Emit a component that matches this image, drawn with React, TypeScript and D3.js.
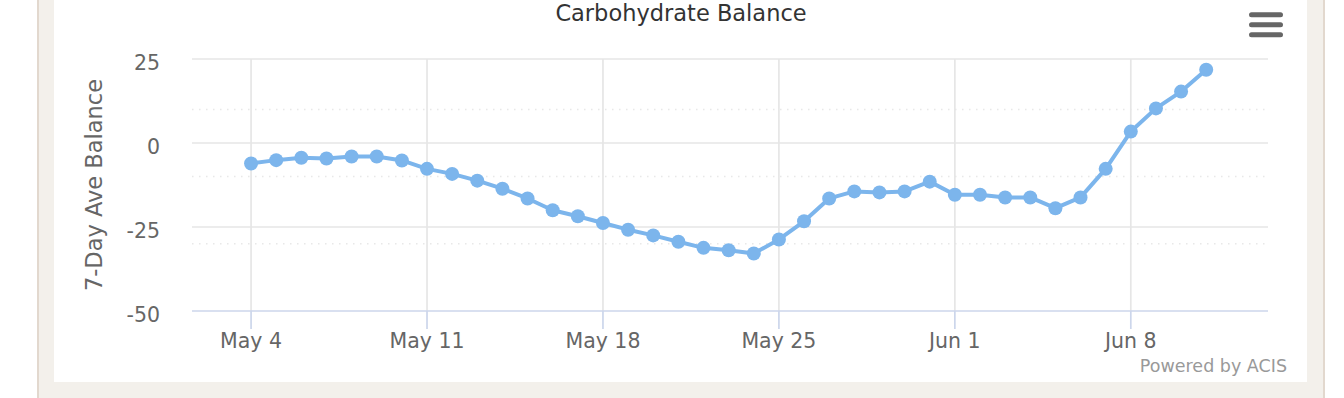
import React from "react";
import * as d3 from "d3";

// daily 7-day average carbohydrate balance
const days = [
  "2016-05-04", "2016-05-05", "2016-05-06", "2016-05-07", "2016-05-08", "2016-05-09", "2016-05-10",
  "2016-05-11", "2016-05-12", "2016-05-13", "2016-05-14", "2016-05-15", "2016-05-16", "2016-05-17",
  "2016-05-18", "2016-05-19", "2016-05-20", "2016-05-21", "2016-05-22", "2016-05-23", "2016-05-24",
  "2016-05-25", "2016-05-26", "2016-05-27", "2016-05-28", "2016-05-29", "2016-05-30", "2016-05-31",
  "2016-06-01", "2016-06-02", "2016-06-03", "2016-06-04", "2016-06-05", "2016-06-06", "2016-06-07",
  "2016-06-08", "2016-06-09", "2016-06-10", "2016-06-11",
];
const balance = [
  -6.1, -5.1, -4.4, -4.6, -4.0, -4.0, -5.2,
  -7.7, -9.2, -11.2, -13.6, -16.5, -20.0, -21.8,
  -23.8, -25.8, -27.5, -29.4, -31.2, -31.9, -32.9,
  -28.7, -23.3, -16.5, -14.4, -14.7, -14.4, -11.5,
  -15.4, -15.4, -16.2, -16.2, -19.4, -16.2, -7.7,
  3.4, 10.3, 15.3, 21.8,
];
const xTicks = ["2016-05-04", "2016-05-11", "2016-05-18", "2016-05-25", "2016-06-01", "2016-06-08"];
const yTicks = [-50, -25, 0, 25];
const yMinor = [-30, -10, 10];

const W = 1344;
const H = 398;
const plot = { left: 192, right: 1268, top: 59, bottom: 311 };
const font = "'DejaVu Sans', Verdana, sans-serif";

const App = () => {
  const parse = d3.utcParse("%Y-%m-%d");
  const fmt = d3.utcFormat("%b %-d");
  const data = days.map((d, i) => ({ date: parse(d) as Date, value: balance[i] }));

  const x = d3
    .scaleUtc()
    .domain([new Date(Date.UTC(2016, 4, 1, 15, 36)), new Date(Date.UTC(2016, 5, 13, 11, 0))])
    .range([plot.left, plot.right]);
  const y = d3.scaleLinear().domain([-50, 25]).range([plot.bottom, plot.top]);

  const line = d3
    .line<{ date: Date; value: number }>()
    .x((d) => x(d.date))
    .y((d) => y(d.value));

  return (
    <div style={{ position: "absolute", left: 0, top: 0 }}>
      <svg width={W} height={H} style={{ display: "block" }}>
        {/* page frame */}
        <rect x={0} y={0} width={W} height={H} fill="#ffffff" />
        <rect x={38} y={-2} width={1286} height={H + 4} fill="#f3f0eb" stroke="#e2d8ce" strokeWidth={2} />
        <rect x={54} y={-2} width={1253} height={384} fill="#ffffff" />

        <text x={681} y={21} textAnchor="middle" fontFamily={font} fontSize={22.5} fill="#333333">
          Carbohydrate Balance
        </text>

        {/* menu button */}
        {[14.8, 24.8, 34.8].map((cy) => (
          <line key={cy} x1={1251.5} x2={1280.5} y1={cy} y2={cy} stroke="#666666" strokeWidth={5} strokeLinecap="round" />
        ))}

        {/* minor dotted grid */}
        {yMinor.map((v) => (
          <line key={"m" + v} x1={plot.left} x2={plot.right} y1={y(v)} y2={y(v)} stroke="#e8e8e8" strokeWidth={1.5} strokeDasharray="1.5 5.5" />
        ))}
        {/* vertical grid */}
        {xTicks.map((t) => {
          const px = x(parse(t) as Date);
          return <line key={"v" + t} x1={px} x2={px} y1={plot.top} y2={plot.bottom} stroke="#e6e6e6" strokeWidth={1.7} />;
        })}
        {/* horizontal grid */}
        {yTicks.map((v) => (
          <line key={"h" + v} x1={plot.left} x2={plot.right} y1={y(v)} y2={y(v)} stroke={v === -50 ? "#ccd6eb" : "#e6e6e6"} strokeWidth={1.7} />
        ))}
        {/* x ticks and labels */}
        {xTicks.map((t) => {
          const px = x(parse(t) as Date);
          return (
            <g key={"t" + t}>
              <line x1={px} x2={px} y1={plot.bottom} y2={plot.bottom + 18} stroke="#ccd6eb" strokeWidth={1.7} />
              <text x={px} y={348} textAnchor="middle" fontFamily={font} fontSize={20.5} fill="#666666">
                {fmt(parse(t) as Date)}
              </text>
            </g>
          );
        })}
        {/* y labels */}
        {yTicks.map((v) => (
          <text key={"y" + v} x={160} y={y(v) + 11} textAnchor="end" fontFamily={font} fontSize={20.5} fill="#666666">
            {String(v)}
          </text>
        ))}
        <text
          transform={`translate(102,${(plot.top + plot.bottom) / 2}) rotate(-90)`}
          textAnchor="middle"
          fontFamily={font}
          fontSize={22.5}
          fill="#666666"
        >
          7-Day Ave Balance
        </text>

        {/* series */}
        <path d={line(data) || ""} fill="none" stroke="#7cb5ec" strokeWidth={4} strokeLinejoin="round" />
        {data.map((d) => (
          <circle key={d.date.toISOString()} cx={x(d.date)} cy={y(d.value)} r={7} fill="#7cb5ec" />
        ))}

        <text x={1287} y={372} textAnchor="end" fontFamily={font} fontSize={17.5} fill="#999999">
          Powered by ACIS
        </text>
      </svg>
    </div>
  );
};

export default App;
